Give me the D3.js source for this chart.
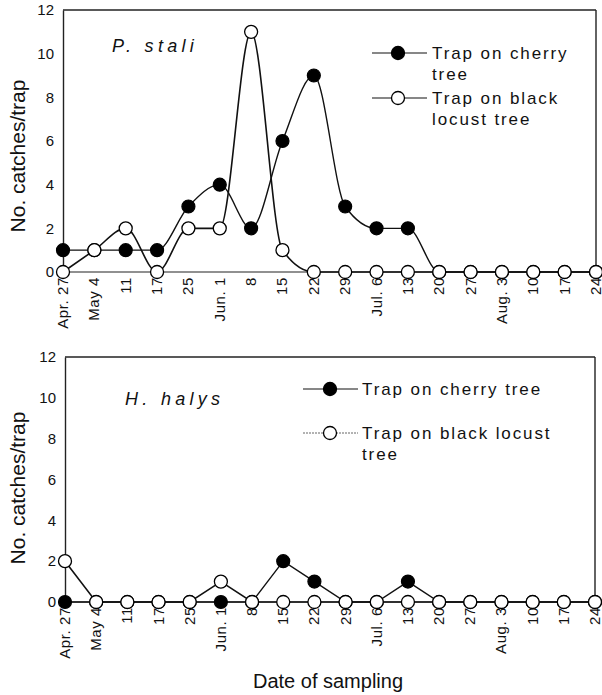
<!DOCTYPE html>
<html>
<head>
<meta charset="utf-8">
<script src="https://cdn.jsdelivr.net/npm/d3@7"></script>
<style>
  html, body { margin: 0; padding: 0; background: #fff; }
  svg { display: block; font-family: "Liberation Sans", Arial, Helvetica, sans-serif; }
</style>
</head>
<body>
<svg id="chart" width="602" height="695"></svg>
<script>
// ---- data ----
const dates = ["Apr. 27","May 4","11","17","25","Jun. 1","8","15","22","29","Jul. 6","13","20","27","Aug. 3","10","17","24"];
const yTicks = [0, 2, 4, 6, 8, 10, 12];

const staliCherry = [1, 1, 1, 1, 3, 4, 2, 6, 9, 3, 2, 2, 0, 0, 0, 0, 0, 0];
const staliLocust = [0, 1, 2, 0, 2, 2, 11, 1, 0, 0, 0, 0, 0, 0, 0, 0, 0, 0];

const halysCherry = [0, 0, 0, 0, 0, 0, 0, 2, 1, 0, 0, 1, 0, 0, 0, 0, 0, 0];
const halysLocust = [2, 0, 0, 0, 0, 1, 0, 0, 0, 0, 0, 0, 0, 0, 0, 0, 0, 0];

const panelTitles = ["P. stali", "H. halys"];
const yTitle = "No. catches/trap";
const xTitle = "Date of sampling";

// ---- drawing ----
const svg = d3.select("#chart");
const idx = dates.map((d, i) => i);

const panels = [
  {
    x0: 63, x1: 596, y0: 272, y1: 10,
    cherry: staliCherry, locust: staliLocust,
    title: panelTitles[0], titleX: 112, titleY: 52,
    curve: d3.curveMonotoneX,
    yTitleY: 156,
    legend: {
      lx0: 372, lx1: 427, mx: 398, tx: 432,
      rows: [
        { y: 53, filled: true, lines: ["Trap on cherry", "tree"], dotted: false },
        { y: 98, filled: false, lines: ["Trap on black", "locust tree"], dotted: false }
      ]
    }
  },
  {
    x0: 65, x1: 595, y0: 602, y1: 357,
    cherry: halysCherry, locust: halysLocust,
    title: panelTitles[1], titleX: 125, titleY: 405,
    curve: d3.curveLinear,
    yTitleY: 488,
    legend: {
      lx0: 303, lx1: 358, mx: 330, tx: 362,
      rows: [
        { y: 389, filled: true, lines: ["Trap on cherry tree"], dotted: false },
        { y: 433, filled: false, lines: ["Trap on black locust", "tree"], dotted: true }
      ]
    }
  }
];

panels.forEach(p => {
  const g = svg.append("g");
  const x = d3.scalePoint().domain(idx).range([p.x0, p.x1]);
  const y = d3.scaleLinear().domain([0, 12]).range([p.y0, p.y1]);

  // frame: top, right, bottom (left is the y axis domain)
  g.append("line").attr("x1", p.x0).attr("x2", p.x1).attr("y1", p.y1).attr("y2", p.y1)
    .attr("stroke", "#222").attr("stroke-width", 1.4);
  g.append("line").attr("x1", p.x1).attr("x2", p.x1).attr("y1", p.y1).attr("y2", p.y0)
    .attr("stroke", "#222").attr("stroke-width", 1.4);
  g.append("line").attr("x1", p.x0).attr("x2", p.x1).attr("y1", p.y0).attr("y2", p.y0)
    .attr("stroke", "#222").attr("stroke-width", 1.2);

  // y axis
  const ya = g.append("g").attr("transform", `translate(${p.x0},0)`)
    .call(d3.axisLeft(y).tickValues(yTicks).tickSize(0).tickPadding(9).tickFormat(d3.format("d")));
  ya.select(".domain").attr("stroke", "#222").attr("stroke-width", 1.4);
  ya.selectAll("text").attr("font-size", 15).attr("fill", "#111")
    .attr("font-family", "'Liberation Sans', Arial, sans-serif");

  // x axis labels (rotated)
  const xa = g.append("g").attr("transform", `translate(0,${p.y0})`)
    .call(d3.axisBottom(x).tickSize(0).tickFormat(i => dates[i]));
  xa.select(".domain").remove();
  xa.selectAll(".tick text")
    .attr("font-size", 15).attr("fill", "#111")
    .attr("font-family", "'Liberation Sans', Arial, sans-serif")
    .attr("letter-spacing", 0.6)
    .attr("text-anchor", "end")
    .attr("x", 0).attr("y", 0).attr("dy", 0)
    .attr("transform", "translate(4.5,5) rotate(-90)");

  // y title
  g.append("text")
    .attr("transform", `translate(25,${p.yTitleY}) rotate(-90)`)
    .attr("text-anchor", "middle")
    .attr("font-size", 21).attr("fill", "#111")
    .text(yTitle);

  // panel title
  g.append("text")
    .attr("x", p.titleX).attr("y", p.titleY)
    .attr("font-size", 18).attr("font-style", "italic").attr("letter-spacing", 4.3)
    .attr("fill", "#111")
    .text(p.title);

  // lines
  const line = d3.line().x((d, i) => x(i)).y(d => y(d)).curve(p.curve);
  g.append("path").datum(p.cherry).attr("d", line)
    .attr("fill", "none").attr("stroke", "#111").attr("stroke-width", 1.4);
  g.append("path").datum(p.locust).attr("d", line)
    .attr("fill", "none").attr("stroke", "#111").attr("stroke-width", 1.6);

  // markers
  g.selectAll("circle.cherry").data(p.cherry).join("circle").attr("class", "cherry")
    .attr("cx", (d, i) => x(i)).attr("cy", d => y(d)).attr("r", 6.5)
    .attr("fill", "#000").attr("stroke", "#000").attr("stroke-width", 1.2);
  g.selectAll("circle.locust").data(p.locust).join("circle").attr("class", "locust")
    .attr("cx", (d, i) => x(i)).attr("cy", d => y(d)).attr("r", 6.5)
    .attr("fill", "#fff").attr("stroke", "#000").attr("stroke-width", 1.3);

  // legend
  const L = p.legend;
  L.rows.forEach(r => {
    g.append("line").attr("x1", L.lx0).attr("x2", L.lx1).attr("y1", r.y).attr("y2", r.y)
      .attr("stroke", r.dotted ? "#666" : "#111")
      .attr("stroke-width", r.dotted ? 1 : 1.2)
      .attr("stroke-dasharray", r.dotted ? "2,1" : null);
    g.append("circle").attr("cx", L.mx).attr("cy", r.y).attr("r", 6.5)
      .attr("fill", r.filled ? "#000" : "#fff").attr("stroke", "#000").attr("stroke-width", 1.3);
    r.lines.forEach((t, k) => {
      g.append("text").attr("x", L.tx).attr("y", r.y + k * 21).attr("dy", "0.35em")
        .attr("font-size", 17).attr("letter-spacing", 1.9).attr("fill", "#111")
        .text(t);
    });
  });
});

// x title
svg.append("text").attr("x", 328).attr("y", 688).attr("text-anchor", "middle")
  .attr("font-size", 20).attr("fill", "#111").text(xTitle);
</script>
</body>
</html>
